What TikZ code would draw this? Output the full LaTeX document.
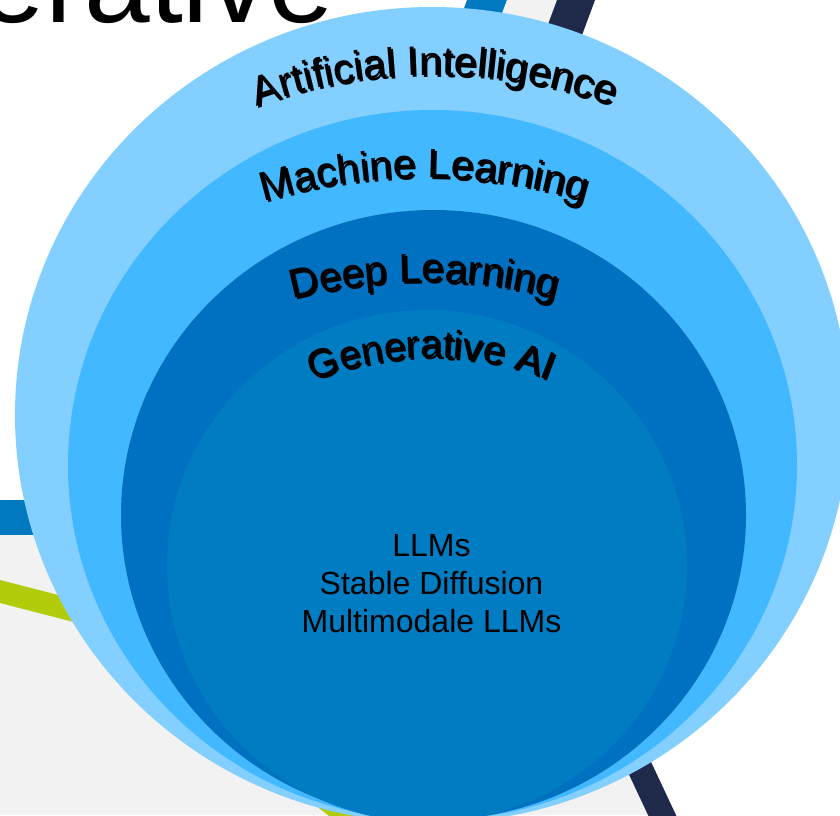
\documentclass[tikz,border=0pt]{standalone}
\usepackage{fontspec}
\setmainfont{Liberation Sans}
\usetikzlibrary{decorations.text}
\definecolor{ringA}{HTML}{83CFFF}
\definecolor{ringB}{HTML}{41B8FF}
\definecolor{ringC}{HTML}{0070C0}
\definecolor{ringD}{HTML}{007CC2}
\definecolor{bandblue}{HTML}{0079C1}
\definecolor{navyline}{HTML}{1F2A4B}
\definecolor{greenline}{HTML}{B2CB0B}
\definecolor{bggray}{HTML}{F2F2F2}
\newcommand\curvedlabel[6]{%
  \path[decorate, fill opacity=0.25,
    decoration={text along path, text align=center,
      text={|\fontsize{#5}{#5}\selectfont|#6}}]
    ([shift={(#2:#4pt)}, xshift=2pt, yshift=-2pt]#1)
    arc[start angle=#2, end angle=#3, radius=#4pt];
  \path[decorate,
    decoration={text along path, text align=center,
      text={|\fontsize{#5}{#5}\selectfont|#6}}]
    ([shift={(#2:#4pt)}]#1) arc[start angle=#2, end angle=#3, radius=#4pt];
}
\begin{document}
\begin{tikzpicture}[x=1pt,y=1pt,
  bodytext/.style={anchor=base, inner sep=0pt, font=\fontsize{32}{38}\selectfont}]
\useasboundingbox (0,0) rectangle (840,815);
\fill[white] (0,0) rectangle (840,815);
% background slide design
\fill[bggray] (0,280) -- (0,0) -- (650,0) -- (585,135) -- (300,280) -- cycle;
\fill[bandblue] (0,280) rectangle (300,315);
\draw[greenline, line width=22.3pt, line join=round] (-5,224.8) -- (88.5,200.7) -- (360,-11);
\draw[navyline, line width=25.3pt] (598.5,135) -- (671.4,-20);
\fill[bandblue] (468.9,820) -- (508.9,820) -- (484.8,755) -- (444.8,755) -- cycle;
\fill[bggray] (508.9,820) -- (558.9,820) -- (534.8,755) -- (484.8,755) -- cycle;
\fill[navyline] (558.9,820) -- (596.9,820) -- (572.8,755) -- (534.8,755) -- cycle;
% title fragment
\node[anchor=base east, inner sep=0pt, font=\fontsize{118}{118}\selectfont] (title) at (334,792) {erative};
% nested circles
\fill[ringA] (432,400) ellipse [x radius=417pt, y radius=408pt];
\fill[ringB] (432.5,350) ellipse [x radius=364.5pt, y radius=355pt];
\fill[ringC] (433.5,300) ellipse [x radius=312.5pt, y radius=305pt];
\fill[ringD] (427,249) ellipse [x radius=260pt, y radius=256pt];
% arc centres for the curved labels
\coordinate (cAI) at (434,220);
\coordinate (cML) at (424,74);
\coordinate (cDL) at (424,10);
\coordinate (cGA) at (431,137);
\curvedlabel{cAI}{130}{50}{520}{41}{Artificial Intelligence}
\curvedlabel{cML}{125}{55}{563}{41}{Machine Learning}
\curvedlabel{cDL}{125}{55}{523}{40.5}{Deep Learning}
\curvedlabel{cGA}{140}{40}{320}{39.5}{Generative AI}
% inner text
\node[bodytext] (llm) at (431.5,259) {LLMs};
\node[bodytext] (sd) at (431.5,221) {Stable Diffusion};
\node[bodytext] (mm) at (431.5,183) {Multimodale LLMs};
\end{tikzpicture}
\end{document}
